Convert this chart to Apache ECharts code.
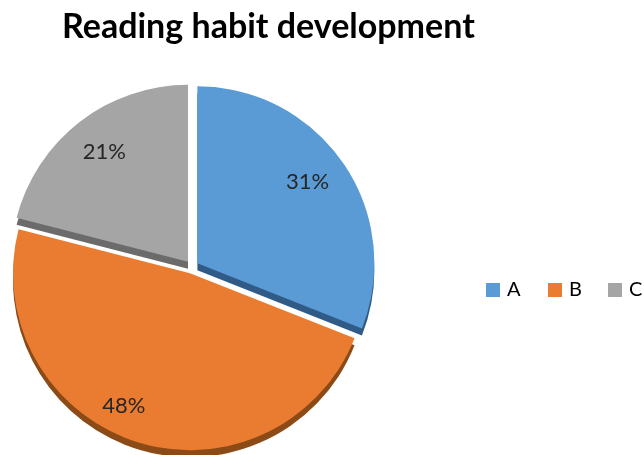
<!DOCTYPE html>
<html>
<head>
<meta charset="utf-8">
<script src="https://cdn.jsdelivr.net/npm/echarts@6.0.0/dist/echarts.min.js"></script>
<style>
html,body{margin:0;padding:0;background:#fff;}
#main{width:644px;height:455px;}
</style>
</head>
<body>
<div id="main"></div>
<script>
const titleText = 'Reading habit development';
const categories = ['A', 'B', 'C'];
const values = [31, 48, 21];
const faceColors = ['#5b9bd5', '#e97c30', '#a5a5a5'];
const sideColors = ['#2f5b86', '#8c4a16', '#6b6b6b'];

const center = [192, 267];
const R = 177;
const offset = 6.5;
const depth = 7;
const labelNudge = [[-8, -1], [-22, -3], [4, 3]];
const legendLefts = [486, 548, 608];

function makeData(colors, transparent, suffix) {
  return categories.map((c, i) => ({
    name: c + suffix,
    value: values[i],
    selected: true,
    itemStyle: { color: transparent ? 'rgba(0,0,0,0)' : colors[i] }
  }));
}

const legends = categories.map((c, i) => ({
  data: [c],
  orient: 'horizontal',
  left: legendLefts[i],
  top: 280,
  padding: 0,
  itemWidth: 14,
  itemHeight: 14,
  icon: 'rect',
  selectedMode: false,
  textStyle: { fontFamily: 'Lato', fontSize: 20, color: '#000', padding: [0, 0, 0, 2] }
}));

const chart = echarts.init(document.getElementById('main'), null, { renderer: 'canvas' });
chart.setOption({
  animation: false,
  color: faceColors,
  title: {
    text: titleText,
    left: 57,
    top: 5,
    textStyle: { fontFamily: 'Lato', fontWeight: 'bold', fontSize: 34, color: '#000' }
  },
  legend: legends,
  series: [
    {
      type: 'pie',
      name: 'side',
      center: [center[0], center[1] + depth],
      radius: [0, R],
      startAngle: 90,
      clockwise: true,
      selectedMode: 'multiple',
      selectedOffset: offset,
      silent: true,
      legendHoverLink: false,
      z: 1,
      label: { show: false },
      labelLine: { show: false },
      data: makeData(sideColors, false, ' ')
    },
    {
      type: 'pie',
      name: 'face',
      center: center,
      radius: [0, R],
      startAngle: 90,
      clockwise: true,
      selectedMode: 'multiple',
      selectedOffset: offset,
      z: 2,
      label: { show: false },
      labelLine: { show: false },
      data: makeData(faceColors, false, '')
    },
    {
      type: 'pie',
      name: 'labels',
      center: center,
      radius: [103, R],
      startAngle: 90,
      clockwise: true,
      selectedMode: 'multiple',
      selectedOffset: offset,
      silent: true,
      z: 3,
      label: {
        show: true,
        position: 'inside',
        formatter: '{d}%',
        fontFamily: 'Lato',
        fontSize: 22,
        color: '#262626'
      },
      labelLayout: function (params) {
        const n = labelNudge[params.dataIndex] || [0, 0];
        return { dx: n[0], dy: n[1] };
      },
      labelLine: { show: false },
      data: makeData(faceColors, true, '  ')
    }
  ]
});
</script>
</body>
</html>
